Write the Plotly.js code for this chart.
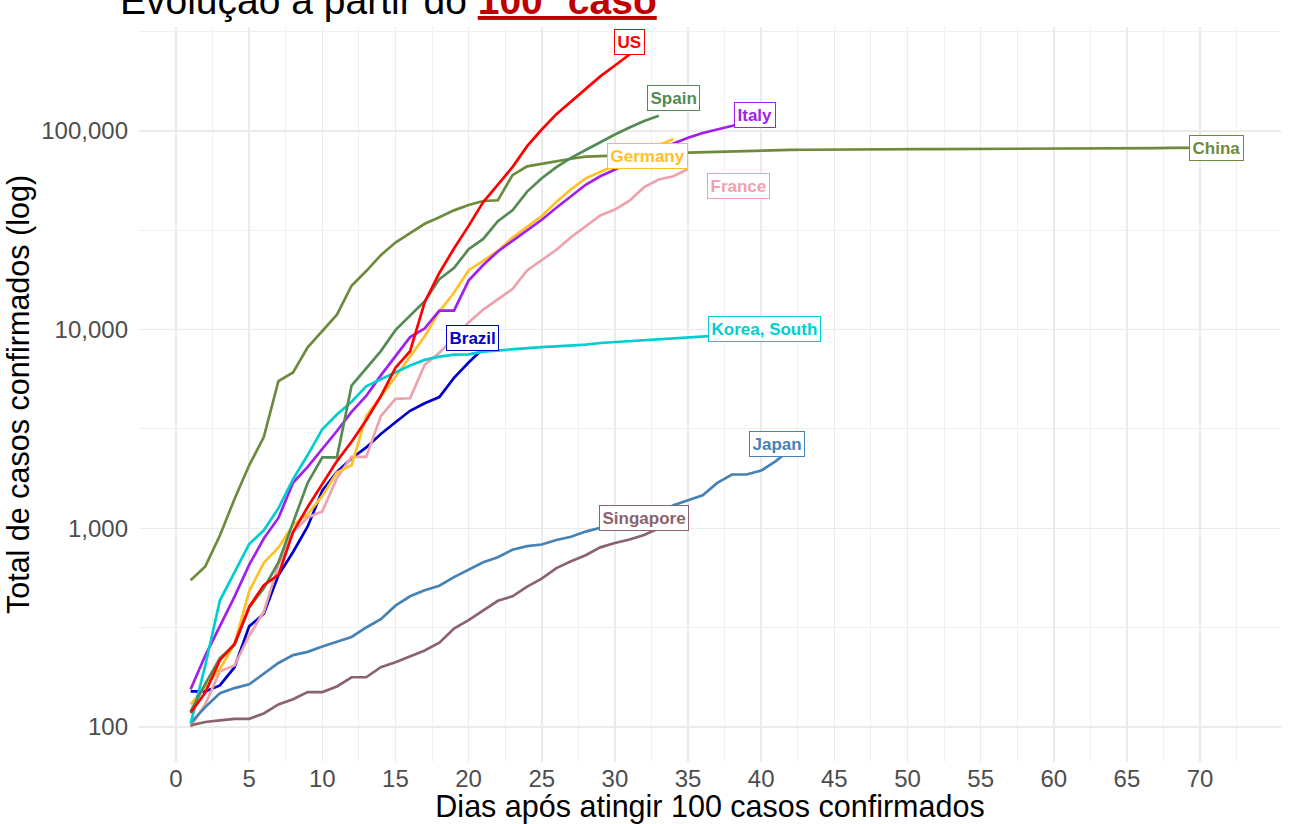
<!DOCTYPE html>
<html>
<head>
<meta charset="utf-8">
<script src="https://cdn.plot.ly/plotly-3.0.1.min.js"></script>
<style>html,body{margin:0;padding:0;background:#ffffff;}</style>
</head>
<body>
<div id="chart" style="width:1296px;height:824px;"></div>
<script>
// ---- data: cumulative confirmed cases, day 1 = first day with >= 100 cases ----
const countries = ["Brazil", "China", "France", "Germany", "Italy", "Japan", "Korea, South", "Singapore", "Spain", "US"];

const brazil = [151, 151, 162, 200, 321, 372, 580, 760, 1021, 1546, 1924, 2247, 2554, 2985, 3417, 3904, 4256, 4579, 5717, 6836, 8044, 9056];

const china = [548, 643, 920, 1406, 2075, 2877, 5509, 6087, 8141, 9802,
  11891, 16630, 19716, 23707, 27440, 30587, 34110, 36814, 39829, 42354,
  44386, 44759, 59895, 66358, 68413, 70513, 72434, 74211, 74619, 75077,
  75550, 77001, 77022, 77241, 77754, 78166, 78600, 78928, 79356, 79932,
  80136, 80261, 80386, 80537, 80690, 80770, 80823, 80860, 80887, 80921,
  80932, 80945, 80977, 81003, 81033, 81058, 81102, 81156, 81250, 81305,
  81435, 81498, 81591, 81661, 81782, 81897, 81999, 82122, 82198, 82279,
  82361, 82432];

const france = [100, 130, 191, 204, 288, 380, 656, 957, 1134, 1217,
  1792, 2289, 2289, 3672, 4480, 4513, 6650, 7652, 9043, 10871,
  12612, 14282, 16018, 19856, 22304, 25233, 29155, 32964, 37575, 40174,
  44550, 52128, 56989, 59105, 64338];

const germany = [130, 159, 196, 262, 482, 670, 799, 1040, 1176, 1457,
  1908, 2078, 3675, 4585, 5795, 7272, 9257, 12327, 15320, 19848,
  22213, 24873, 29056, 32986, 37323, 43938, 50871, 57695, 62095, 66885,
  71808, 77872, 84794, 91159];

const italy = [155, 229, 322, 453, 655, 888, 1128, 1694, 2036, 2502,
  3089, 3858, 4636, 5883, 7375, 9172, 10149, 12462, 12462, 17660,
  21157, 24747, 27980, 31506, 35713, 41035, 47021, 53578, 59138, 63927,
  69176, 74386, 80589, 86498, 92472, 97689, 101739, 105792, 110574, 115242,
  119827];

const japan = [105, 126, 148, 157, 164, 186, 210, 230, 239, 254,
  268, 284, 317, 349, 408, 455, 488, 514, 568, 620,
  675, 716, 780, 814, 829, 873, 907, 963, 1007, 1086,
  1086, 1128, 1193, 1307, 1387, 1468, 1693, 1866, 1866, 1953,
  2178, 2495];

const korea = [104, 204, 433, 602, 833, 977, 1261, 1766, 2337, 3150,
  3736, 4335, 5186, 5621, 6088, 6593, 7041, 7314, 7478, 7513,
  7755, 7869, 7979, 8086, 8162, 8236, 8320, 8413, 8565, 8652,
  8799, 8897, 8961, 9037, 9137, 9241, 9332, 9478, 9583, 9661,
  9786, 9887, 9976, 10062];

const singapore = [102, 106, 108, 110, 110, 117, 130, 138, 150, 150,
  160, 178, 178, 200, 212, 226, 243, 266, 313, 345,
  385, 432, 455, 509, 558, 631, 683, 732, 802, 844,
  879, 926, 1000, 1049, 1114];

const spain = [120, 165, 222, 259, 400, 500, 673, 1073, 1695, 2277,
  2277, 5232, 6391, 7798, 9942, 11748, 13910, 17963, 20410, 25374,
  28603, 35136, 39885, 49515, 57786, 65719, 73235, 80110, 87956, 95923,
  104118, 112065, 119199];

const us = [118, 149, 217, 262, 402, 518, 583, 959, 1281, 1663,
  2179, 2727, 3499, 4632, 6421, 7783, 13747, 19273, 25600, 33276,
  43843, 53736, 65778, 83836, 101657, 121478, 140886, 161807, 188172, 213372,
  243453, 275586];

const xTickVals = [0, 5, 10, 15, 20, 25, 30, 35, 40, 45, 50, 55, 60, 65, 70];
const yTickVals = [100, 1000, 10000, 100000];
const yTickText = ["100", "1,000", "10,000", "100,000"];

const titleMain = "Evolução a partir do ";
const titleHighlight = "100º caso";
const xTitle = "Dias após atingir 100 casos confirmados";
const yTitle = "Total de casos confirmados (log)";

// ---- styling ----
const seriesValues = [brazil, china, france, germany, italy, japan, korea, singapore, spain, us];
const colors = ["#0000CD", "#6E8B3D", "#EEA2AD", "#FFC125", "#A020F0", "#4682B4", "#00CED1", "#8B636C", "#548B54", "#FF0000"];
// label offsets (pixels) from each series' last point
const labelShift = {
  "Brazil": [-25, 0], "China": [-13, 0], "France": [50, -17], "Germany": [-26, -17],
  "Italy": [-21, 0], "Japan": [-13, 5], "Korea, South": [-55, 0], "Singapore": [-44, 1],
  "Spain": [15, 18], "US": [-15, 1]
};

const traces = countries.map((name, i) => {
  const vals = seriesValues[i];
  return {
    type: "scatter", mode: "lines", name: name,
    x: vals.map((v, k) => k + 1), y: vals,
    line: {color: colors[i], width: 2.7},
    hoverinfo: "x+y+name", showlegend: false
  };
});

const annotations = countries.map((name, i) => {
  const vals = seriesValues[i];
  return {
    x: vals.length, y: Math.log10(vals[vals.length - 1]),
    xref: "x", yref: "y", showarrow: false,
    xshift: labelShift[name][0], yshift: labelShift[name][1],
    text: "<b>" + name + "</b>",
    font: {family: "Liberation Sans, Arial, sans-serif", size: 17, color: colors[i]},
    bgcolor: "#ffffff", bordercolor: colors[i], borderwidth: 1, borderpad: 2.5
  };
});

const gridColor = "#ebebeb";
const layout = {
  width: 1296, height: 824,
  paper_bgcolor: "#ffffff", plot_bgcolor: "#ffffff",
  margin: {l: 139, r: 15, t: 27, b: 62, autoexpand: false},
  font: {family: "Liberation Sans, Arial, sans-serif", color: "#4d4d4d"},
  title: {
    text: titleMain + '<span style="color:#C00000"><b><u>' + titleHighlight + '</u></b></span>',
    font: {family: "Liberation Sans, Arial, sans-serif", size: 39, color: "#000000"},
    xref: "container", x: 120 / 1296, xanchor: "left",
    yref: "container", y: 1 - 14 / 824, yanchor: "bottom"
  },
  xaxis: {
    range: [-2.53, 75.53], tickmode: "array", tickvals: xTickVals,
    showgrid: true, gridcolor: gridColor, gridwidth: 1.5,
    minor: {tick0: 2.5, dtick: 5, showgrid: true, gridcolor: "#f0f0f0", gridwidth: 1},
    zeroline: false, showline: false, ticks: "",
    tickfont: {size: 24, color: "#4d4d4d"}, ticklabelstandoff: 0,
    title: {text: xTitle, font: {size: 30.5, color: "#000000"}, standoff: 4},
    automargin: false
  },
  yaxis: {
    type: "log", range: [1.824, 5.523],
    tickmode: "array", tickvals: yTickVals, ticktext: yTickText,
    showgrid: true, gridcolor: gridColor, gridwidth: 1.5,
    minor: {tickmode: "array", tickvals: [Math.pow(10, 2.5), Math.pow(10, 3.5), Math.pow(10, 4.5), Math.pow(10, 5.5)],
            showgrid: true, gridcolor: "#f0f0f0", gridwidth: 1},
    zeroline: false, showline: false, ticks: "",
    tickfont: {size: 24, color: "#4d4d4d"}, ticklabelstandoff: 10,
    title: {text: yTitle, font: {size: 30.5, color: "#000000"}, standoff: 2},
    automargin: false
  },
  annotations: annotations
};

Plotly.newPlot("chart", traces, layout, {displayModeBar: false, staticPlot: true});
</script>
</body>
</html>
